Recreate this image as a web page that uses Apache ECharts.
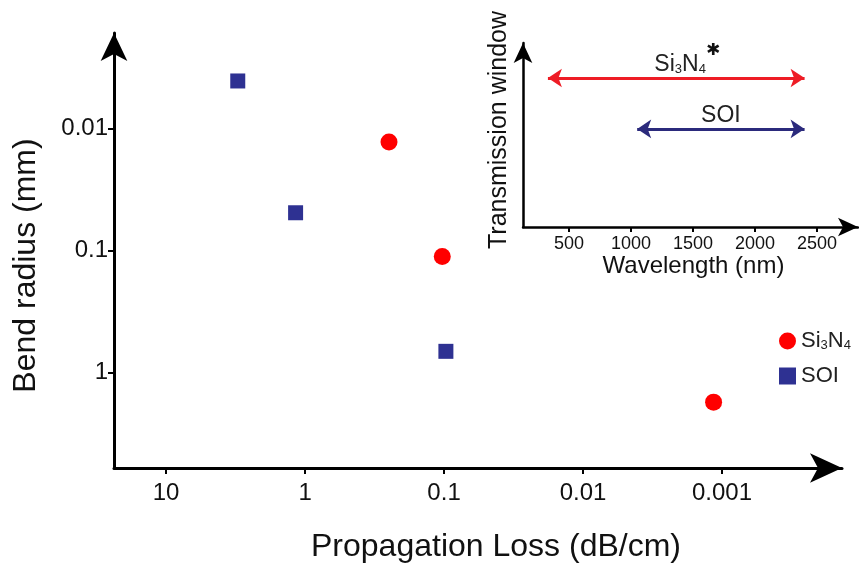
<!DOCTYPE html>
<html><head><meta charset="utf-8">
<script src="https://cdn.jsdelivr.net/npm/echarts@6/dist/echarts.min.js"></script>
<style>html,body{margin:0;padding:0;background:#fff}#c{width:859px;height:568px}</style>
</head><body><div id="c"></div>
<script>
// ---- data ----
const lossTicks = [10, 1, 0.1, 0.01, 0.001];
const bendTicks = [0.01, 0.1, 1];
const wavelengthTicks = [500, 1000, 1500, 2000, 2500];
const si3n4Loss = [0.249, 0.103, 0.00115];
const si3n4Bend = [0.0128, 0.112, 1.76];
const soiLoss = [3.05, 1.17, 0.097];
const soiBend = [0.00404, 0.0489, 0.673];
const si3n4Window = [330, 2400];
const soiWindow = [1050, 2400];
const windowLevels = [0.81, 0.533];

const FONT = "'Liberation Sans', Arial, Helvetica, sans-serif";
const fmt = v => String(parseFloat(Number(v).toPrecision(3)));
const si3n4Rich = '{a|Si}{b|3}{a|N}{b|4}';

const chart = echarts.init(document.getElementById('c'));
chart.setOption({
  animation: false,
  backgroundColor: '#fff',
  textStyle: { fontFamily: FONT },
  grid: [
    { left: 114, top: 33, right: 17, bottom: 99 },
    { left: 523, top: 43, right: 1, bottom: 341 }
  ],
  legend: {
    data: ['Si3N4', 'SOI'],
    orient: 'vertical',
    left: 774, top: 325,
    itemWidth: 17, itemHeight: 17, itemGap: 13,
    formatter: n => n === 'Si3N4' ? si3n4Rich : '{a|' + n + '}',
    textStyle: {
      color: '#222', fontFamily: FONT,
      rich: {
        a: { fontSize: 22, lineHeight: 22, verticalAlign: 'bottom', fontFamily: FONT, color: '#222' },
        b: { fontSize: 13, lineHeight: 22, verticalAlign: 'bottom', fontFamily: FONT, color: '#222' }
      }
    }
  },
  xAxis: [
    {
      type: 'log', logBase: 10, gridIndex: 0, inverse: true,
      min: 1.37e-4, max: 23.7,
      name: 'Propagation Loss (dB/cm)', nameLocation: 'middle', nameGap: 63,
      nameTextStyle: { fontSize: 32, color: '#111', fontFamily: FONT, padding: [0, 0, 0, 36] },
      axisLine: { show: true, lineStyle: { color: '#000', width: 3 }, symbol: ['none', 'arrow'], symbolSize: [22, 32] },
      axisTick: { show: true, length: 6, lineStyle: { color: '#000', width: 2 }, customValues: lossTicks },
      axisLabel: { customValues: lossTicks, formatter: fmt, fontSize: 24, color: '#111', margin: 13, fontFamily: FONT },
      splitLine: { show: false }, minorTick: { show: false }
    },
    {
      type: 'value', gridIndex: 1, min: 129, max: 2831,
      name: 'Wavelength (nm)', nameLocation: 'middle', nameGap: 17,
      nameTextStyle: { fontSize: 24, color: '#111', fontFamily: FONT, padding: [0, 0, 0, 6] },
      axisLine: { show: true, lineStyle: { color: '#000', width: 2.5 }, symbol: ['none', 'arrow'], symbolSize: [14, 20] },
      axisTick: { show: true, length: 5, lineStyle: { color: '#000', width: 2 }, customValues: wavelengthTicks },
      axisLabel: { customValues: wavelengthTicks, formatter: v => String(Math.round(v)), fontSize: 18, color: '#111', margin: 8, fontFamily: FONT },
      splitLine: { show: false }
    }
  ],
  yAxis: [
    {
      type: 'log', logBase: 10, gridIndex: 0, inverse: true,
      min: 0.00163, max: 6.12,
      name: 'Bend radius (mm)', nameLocation: 'middle', nameGap: 72,
      nameTextStyle: { fontSize: 32, color: '#111', fontFamily: FONT, padding: [0, 30, 0, 0] },
      axisLine: { show: true, lineStyle: { color: '#000', width: 3 }, symbol: ['none', 'arrow'], symbolSize: [20, 28] },
      axisTick: { show: true, length: 6, lineStyle: { color: '#000', width: 2 }, customValues: bendTicks },
      axisLabel: { customValues: bendTicks, formatter: fmt, fontSize: 24, color: '#111', margin: 6, fontFamily: FONT },
      splitLine: { show: false }, minorTick: { show: false }
    },
    {
      type: 'value', gridIndex: 1, min: 0, max: 1,
      name: 'Transmission window', nameLocation: 'middle', nameGap: 11,
      nameTextStyle: { fontSize: 25, color: '#111', fontFamily: FONT, padding: [0, 0, 0, 10] },
      axisLine: { show: true, lineStyle: { color: '#000', width: 2.5 }, symbol: ['none', 'arrow'], symbolSize: [14, 20] },
      axisTick: { show: false }, axisLabel: { show: false }, splitLine: { show: false }
    }
  ],
  series: [
    {
      name: 'Si3N4', type: 'scatter', xAxisIndex: 0, yAxisIndex: 0,
      symbol: 'circle', symbolSize: 17,
      itemStyle: { color: '#ff0000', opacity: 1 },
      data: si3n4Loss.map((x, i) => [x, si3n4Bend[i]])
    },
    {
      name: 'SOI', type: 'scatter', xAxisIndex: 0, yAxisIndex: 0,
      symbol: 'rect', symbolSize: 15,
      itemStyle: { color: '#2e3192', opacity: 1 },
      data: soiLoss.map((x, i) => [x, soiBend[i]])
    },
    {
      type: 'lines', coordinateSystem: 'cartesian2d', xAxisIndex: 1, yAxisIndex: 1,
      symbol: ['arrow', 'arrow'], symbolSize: 14,
      label: {
        show: true, position: 'middle', distance: 2,
        rich: {
          a: { fontSize: 23, lineHeight: 34, verticalAlign: 'bottom', fontFamily: FONT, color: '#222' },
          b: { fontSize: 13, lineHeight: 34, verticalAlign: 'bottom', fontFamily: FONT, color: '#222' },
          s: { fontSize: 17, lineHeight: 34, verticalAlign: 'top', fontFamily: 'DejaVu Sans', color: '#111' }
        }
      },
      data: [
        {
          coords: [[si3n4Window[0], windowLevels[0]], [si3n4Window[1], windowLevels[0]]],
          lineStyle: { color: '#ee1c25', width: 3, opacity: 1 },
          label: { formatter: si3n4Rich + '{s|\u2731}', padding: [0, 0, 0, 22] }
        },
        {
          coords: [[soiWindow[0], windowLevels[1]], [soiWindow[1], windowLevels[1]]],
          lineStyle: { color: '#2b2a7c', width: 3, opacity: 1 },
          label: { formatter: '{a|SOI}' }
        }
      ]
    }
  ]
});
</script>
</body></html>
